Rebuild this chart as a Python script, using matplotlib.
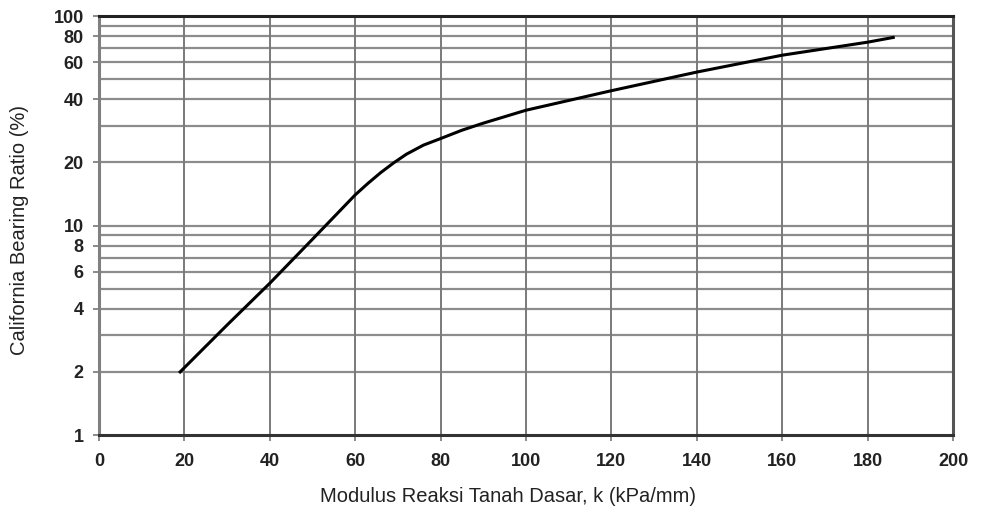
import matplotlib
matplotlib.use("Agg")
import matplotlib.pyplot as plt
import numpy as np

# curve
k_vals = [19, 30, 40, 50, 60, 63, 66, 69, 72, 76, 80, 85, 90, 100, 120, 140, 160, 180, 186]
cbr_vals = [2.0, 3.35, 5.3, 8.6, 14.0, 15.9, 17.9, 19.9, 21.9, 24.2, 26.0, 28.5, 30.8, 35.5, 44.0, 54.0, 65.0, 75.0, 79.0]

x_ticks = [0, 20, 40, 60, 80, 100, 120, 140, 160, 180, 200]
y_ticks = [1, 2, 4, 6, 8, 10, 20, 40, 60, 80, 100]
y_grid = [2, 3, 4, 5, 6, 7, 8, 9, 10, 20, 30, 40, 50, 60, 70, 80, 90]

plt.rcParams['font.family'] = ['Liberation Sans', 'DejaVu Sans']

fig = plt.figure(figsize=(9.82, 5.08), dpi=100)
ax = fig.add_axes([0.1008, 0.1437, 0.8697, 0.8248])

ax.set_yscale('log')
ax.set_xlim(0, 200)
ax.set_ylim(1, 100)

for v in y_grid:
    ax.axhline(v, color='#8c8c8c', lw=1.6, zorder=1)
for v in x_ticks[1:-1]:
    ax.axvline(v, color='#7a7a7a', lw=1.4, zorder=1)

ax.plot(k_vals, cbr_vals, color='black', lw=2.2, zorder=3)

ax.set_xticks(x_ticks)
ax.set_xticklabels([str(t) for t in x_ticks])
ax.yaxis.set_minor_locator(matplotlib.ticker.NullLocator())
ax.set_yticks(y_ticks)
ax.set_yticklabels([str(t) for t in y_ticks])
ax.tick_params(axis='both', direction='out', length=4, width=1.2, color='#777777',
               labelsize=13)
ax.tick_params(axis='x', pad=9)
ax.tick_params(axis='y', pad=7)
for lab in ax.get_xticklabels() + ax.get_yticklabels():
    lab.set_fontweight('bold')
    lab.set_color('#222222')

ax.spines['left'].set_color('#808080')
ax.spines['left'].set_linewidth(2.2)
ax.spines['bottom'].set_color('#333333')
ax.spines['bottom'].set_linewidth(2.2)
ax.spines['top'].set_color('#222222')
ax.spines['top'].set_linewidth(2.2)
ax.spines['right'].set_color('#555555')
ax.spines['right'].set_linewidth(2.2)

ax.set_xlabel('Modulus Reaksi Tanah Dasar, k (kPa/mm)', fontsize=14.5, color='#222222')
ax.set_ylabel('California Bearing Ratio (%)', fontsize=14.5, color='#222222')
ax.xaxis.set_label_coords(0.479, -0.124)
ax.yaxis.set_label_coords(-0.082, 0.49)

fig.savefig('out.png', dpi=100)
print('ended')
